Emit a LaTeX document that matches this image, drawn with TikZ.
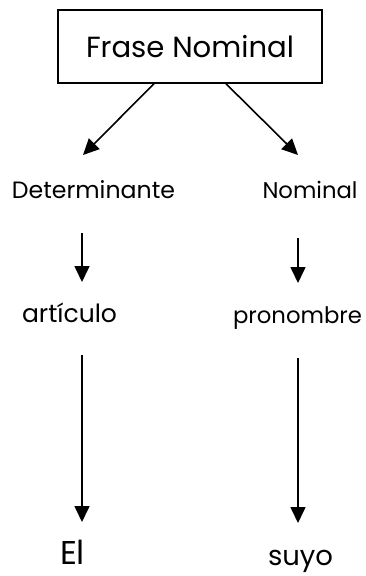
\documentclass[tikz,border=0pt]{standalone}
\usepackage{fontspec}
\setmainfont{Poppins}
\usetikzlibrary{arrows.meta}
\newsavebox\fitbox
\newcommand\fitto[2]{%
  \sbox\fitbox{\fontsize{10pt}{12pt}\selectfont #2}%
  \edef\fitwd{\the\wd\fitbox}%
  \pgfmathsetmacro\fitsz{10*#1/\fitwd}%
  \fontsize{\fitsz pt}{\fitsz pt}\selectfont #2}
\tikzset{
  arr/.style={line width=1.6pt, -{Triangle[length=16pt,width=15pt]}},
  word/.style={inner sep=0pt, anchor=base},
  titlebox/.style={draw, line width=1.5pt, minimum width=264pt, minimum height=73pt, inner sep=0pt}
}
\begin{document}
\begin{tikzpicture}[x=1pt,y=-1pt]
\useasboundingbox (0,0) rectangle (366,576);
\node[titlebox] (title) at (190,46.5) {\fitto{208}{Frase Nominal}};
\node[word] (det) at (93.5,198) {\fitto{163}{Determinante}};
\node[word] (nom) at (310,198) {\fitto{95}{Nominal}};
\node[word] (art) at (69.5,322) {\fitto{95}{artículo}};
\node[word] (pron) at (297.5,323) {\fitto{129}{pronombre}};
\node[word, text depth=0pt] (el) at (72.5,564) {\fitto{25}{El}};
\node[word] (suyo) at (300.5,565) {\fitto{65}{suyo}};
\draw[arr] ([xshift=-36pt]title.south) -- ([xshift=-10.5pt,yshift=43pt]det.base);
\draw[arr] ([xshift=36pt]title.south) -- ([xshift=-12pt,yshift=43pt]nom.base);
\draw[arr] ([xshift=-11.5pt,yshift=-35pt]det.base) -- ([xshift=12.5pt,yshift=40pt]art.base);
\draw[arr] ([xshift=-12pt,yshift=-40pt]nom.base) -- ([xshift=0.5pt,yshift=40pt]pron.base);
\draw[arr] ([xshift=12.5pt,yshift=-33pt]art.base) -- ([xshift=9.5pt,yshift=42pt]el.base);
\draw[arr] ([xshift=0.5pt,yshift=-35pt]pron.base) -- ([xshift=-2.5pt,yshift=42pt]suyo.base);
\end{tikzpicture}
\end{document}
